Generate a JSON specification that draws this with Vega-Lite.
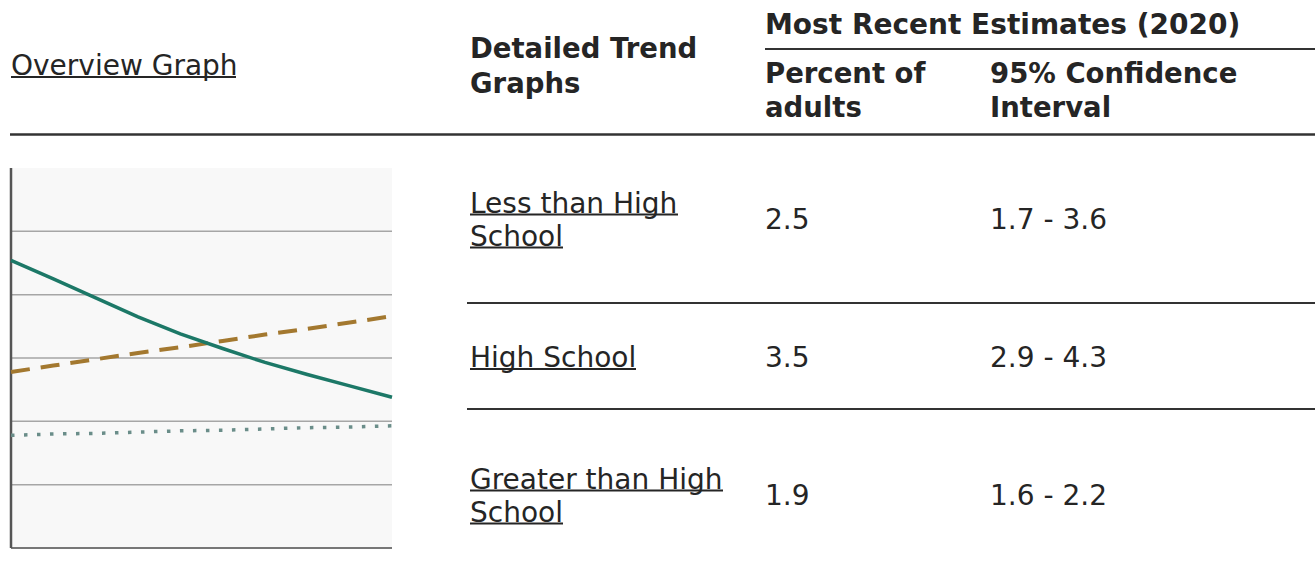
{
  "$schema": "https://vega.github.io/schema/vega-lite/v6.json",
  "width": 1315,
  "height": 579,
  "padding": 0,
  "autosize": {"type": "none"},
  "background": "white",
  "config": {
    "view": {"stroke": null},
    "axis": {"disable": true},
    "legend": {"disable": true},
    "font": "DejaVu Sans",
    "text": {"font": "DejaVu Sans", "fontSize": 28, "color": "#252525", "align": "left"}
  },
  "datasets": {
    "estimates": [
      {"group": "Less than High School", "label": "Less than High\nSchool", "percent": 2.5, "ci": "1.7 - 3.6"},
      {"group": "High School", "label": "High School", "percent": 3.5, "ci": "2.9 - 4.3"},
      {"group": "Greater than High School", "label": "Greater than High\nSchool", "percent": 1.9, "ci": "1.6 - 2.2"}
    ],
    "trend": [
      {"year": 2011, "series": "Less than High School", "value": 4.54},
      {"year": 2012, "series": "Less than High School", "value": 4.25},
      {"year": 2013, "series": "Less than High School", "value": 3.95},
      {"year": 2014, "series": "Less than High School", "value": 3.65},
      {"year": 2015, "series": "Less than High School", "value": 3.38},
      {"year": 2016, "series": "Less than High School", "value": 3.15},
      {"year": 2017, "series": "Less than High School", "value": 2.93},
      {"year": 2018, "series": "Less than High School", "value": 2.74},
      {"year": 2019, "series": "Less than High School", "value": 2.56},
      {"year": 2020, "series": "Less than High School", "value": 2.38},
      {"year": 2011, "series": "High School", "value": 2.78},
      {"year": 2012, "series": "High School", "value": 2.88},
      {"year": 2013, "series": "High School", "value": 2.98},
      {"year": 2014, "series": "High School", "value": 3.08},
      {"year": 2015, "series": "High School", "value": 3.17},
      {"year": 2016, "series": "High School", "value": 3.27},
      {"year": 2017, "series": "High School", "value": 3.37},
      {"year": 2018, "series": "High School", "value": 3.46},
      {"year": 2019, "series": "High School", "value": 3.56},
      {"year": 2020, "series": "High School", "value": 3.66},
      {"year": 2011, "series": "Greater than High School", "value": 1.78},
      {"year": 2012, "series": "Greater than High School", "value": 1.80},
      {"year": 2013, "series": "Greater than High School", "value": 1.81},
      {"year": 2014, "series": "Greater than High School", "value": 1.83},
      {"year": 2015, "series": "Greater than High School", "value": 1.85},
      {"year": 2016, "series": "Greater than High School", "value": 1.86},
      {"year": 2017, "series": "Greater than High School", "value": 1.88},
      {"year": 2018, "series": "Greater than High School", "value": 1.90},
      {"year": 2019, "series": "Greater than High School", "value": 1.91},
      {"year": 2020, "series": "Greater than High School", "value": 1.93}
    ],
    "gridlines": [{"level": 1}, {"level": 2}, {"level": 3}, {"level": 4}, {"level": 5}]
  },
  "layer": [
    {
      "data": {"values": [{}]},
      "layer": [
        {
          "mark": {"type": "text", "text": "Overview Graph", "baseline": "alphabetic"},
          "encoding": {
            "x": {"datum": 11, "type": "quantitative", "scale": {"domain": [0, 1315], "range": [0, 1315], "zero": false, "nice": false}},
            "y": {"datum": 74.5, "type": "quantitative", "scale": {"domain": [0, 579], "range": [0, 579], "zero": false, "nice": false}}
          }
        },
        {
          "mark": {"type": "rule", "color": "#252525", "strokeWidth": 2},
          "encoding": {"x": {"datum": 11, "type": "quantitative"}, "x2": {"datum": 236}, "y": {"datum": 77, "type": "quantitative"}}
        },
        {
          "mark": {"type": "text", "text": ["Detailed Trend", "Graphs"], "fontWeight": "bold", "fontSize": 27.5, "lineHeight": 35, "baseline": "alphabetic"},
          "encoding": {"x": {"datum": 470, "type": "quantitative"}, "y": {"datum": 58, "type": "quantitative"}}
        },
        {
          "mark": {"type": "text", "text": "Most Recent Estimates (2020)", "fontWeight": "bold", "fontSize": 28, "baseline": "alphabetic"},
          "encoding": {"x": {"datum": 765, "type": "quantitative"}, "y": {"datum": 34, "type": "quantitative"}}
        },
        {
          "mark": {"type": "rule", "color": "#333333", "strokeWidth": 2},
          "encoding": {"x": {"datum": 765, "type": "quantitative"}, "x2": {"datum": 1315}, "y": {"datum": 49, "type": "quantitative"}}
        },
        {
          "mark": {"type": "text", "text": ["Percent of", "adults"], "fontWeight": "bold", "fontSize": 27.5, "lineHeight": 34, "baseline": "alphabetic"},
          "encoding": {"x": {"datum": 765, "type": "quantitative"}, "y": {"datum": 83, "type": "quantitative"}}
        },
        {
          "mark": {"type": "text", "text": ["95% Confidence", "Interval"], "fontWeight": "bold", "fontSize": 27.5, "lineHeight": 34, "baseline": "alphabetic"},
          "encoding": {"x": {"datum": 990, "type": "quantitative"}, "y": {"datum": 83, "type": "quantitative"}}
        },
        {
          "mark": {"type": "rule", "color": "#333333", "strokeWidth": 2.5},
          "encoding": {"x": {"datum": 10, "type": "quantitative"}, "x2": {"datum": 1315}, "y": {"datum": 134.5, "type": "quantitative"}}
        },
        {
          "mark": {"type": "rule", "color": "#333333", "strokeWidth": 2},
          "encoding": {"x": {"datum": 467, "type": "quantitative"}, "x2": {"datum": 1315}, "y": {"datum": 303, "type": "quantitative"}}
        },
        {
          "mark": {"type": "rule", "color": "#333333", "strokeWidth": 2},
          "encoding": {"x": {"datum": 467, "type": "quantitative"}, "x2": {"datum": 1315}, "y": {"datum": 409, "type": "quantitative"}}
        }
      ]
    },
    {
      "data": {"name": "estimates"},
      "layer": [
        {
          "transform": [{"filter": "indexof(datum.label, '\\n') >= 0"}],
          "mark": {"type": "text", "lineBreak": "\n", "lineHeight": 33, "baseline": "middle", "dy": -16.5},
          "encoding": {
            "x": {"datum": 470, "type": "quantitative", "scale": {"domain": [0, 1315], "range": [0, 1315], "zero": false, "nice": false}},
            "y": {"field": "group", "type": "nominal", "scale": {"type": "point", "domain": ["Less than High School", "High School", "Greater than High School"], "range": [221, 497], "padding": 0}},
            "text": {"field": "label"}
          }
        },
        {
          "transform": [{"filter": "indexof(datum.label, '\\n') < 0"}],
          "mark": {"type": "text", "baseline": "middle"},
          "encoding": {
            "x": {"datum": 470, "type": "quantitative"},
            "y": {"field": "group", "type": "nominal"},
            "text": {"field": "label"}
          }
        },
        {
          "mark": {"type": "text", "baseline": "middle"},
          "encoding": {
            "x": {"datum": 765, "type": "quantitative"},
            "y": {"field": "group", "type": "nominal"},
            "text": {"field": "percent", "type": "quantitative", "format": ".1f"}
          }
        },
        {
          "mark": {"type": "text", "baseline": "middle"},
          "encoding": {
            "x": {"datum": 990, "type": "quantitative"},
            "y": {"field": "group", "type": "nominal"},
            "text": {"field": "ci"}
          }
        },
        {
          "data": {"values": [{}]},
          "mark": {"type": "rule", "color": "#252525", "strokeWidth": 2, "yOffset": -6.5},
          "encoding": {"x": {"datum": 470, "type": "quantitative"}, "x2": {"datum": 678}, "y": {"datum": "Less than High School", "type": "nominal"}}
        },
        {
          "data": {"values": [{}]},
          "mark": {"type": "rule", "color": "#252525", "strokeWidth": 2, "yOffset": 26.5},
          "encoding": {"x": {"datum": 470, "type": "quantitative"}, "x2": {"datum": 563}, "y": {"datum": "Less than High School", "type": "nominal"}}
        },
        {
          "data": {"values": [{}]},
          "mark": {"type": "rule", "color": "#252525", "strokeWidth": 2, "yOffset": 10},
          "encoding": {"x": {"datum": 470, "type": "quantitative"}, "x2": {"datum": 636}, "y": {"datum": "High School", "type": "nominal"}}
        },
        {
          "data": {"values": [{}]},
          "mark": {"type": "rule", "color": "#252525", "strokeWidth": 2, "yOffset": -6.5},
          "encoding": {"x": {"datum": 470, "type": "quantitative"}, "x2": {"datum": 723}, "y": {"datum": "Greater than High School", "type": "nominal"}}
        },
        {
          "data": {"values": [{}]},
          "mark": {"type": "rule", "color": "#252525", "strokeWidth": 2, "yOffset": 26.5},
          "encoding": {"x": {"datum": 470, "type": "quantitative"}, "x2": {"datum": 563}, "y": {"datum": "Greater than High School", "type": "nominal"}}
        }
      ]
    },
    {
      "data": {"name": "trend"},
      "layer": [
        {
          "data": {"values": [{}]},
          "mark": {"type": "rect", "color": "#f8f8f8"},
          "encoding": {
            "x": {"datum": 2011, "type": "quantitative", "scale": {"domain": [2011, 2020], "range": [11, 392], "zero": false, "nice": false}},
            "x2": {"datum": 2020},
            "y": {"datum": 0, "type": "quantitative", "scale": {"domain": [0, 6], "range": [548, 168], "zero": false, "nice": false}},
            "y2": {"datum": 6}
          }
        },
        {
          "data": {"name": "gridlines"},
          "mark": {"type": "rule", "color": "#a6a6a6", "strokeWidth": 1.5},
          "encoding": {"x": {"datum": 2011, "type": "quantitative"}, "x2": {"datum": 2020}, "y": {"field": "level", "type": "quantitative"}}
        },
        {
          "data": {"values": [{}]},
          "mark": {"type": "rule", "color": "#777777", "strokeWidth": 2},
          "encoding": {"x": {"datum": 2011, "type": "quantitative"}, "x2": {"datum": 2020}, "y": {"datum": 0, "type": "quantitative"}}
        },
        {
          "data": {"values": [{}]},
          "mark": {"type": "rule", "color": "#555555", "strokeWidth": 2.5},
          "encoding": {"x": {"datum": 2011, "type": "quantitative"}, "y": {"datum": 0, "type": "quantitative"}, "y2": {"datum": 6}}
        },
        {
          "transform": [{"filter": "datum.series === 'Greater than High School'"}],
          "mark": {"type": "line", "color": "#6a8d89", "strokeWidth": 3.5, "strokeDash": [3.5, 9.5]},
          "encoding": {"x": {"field": "year", "type": "quantitative"}, "y": {"field": "value", "type": "quantitative"}}
        },
        {
          "transform": [{"filter": "datum.series === 'High School'"}],
          "mark": {"type": "line", "color": "#a3782f", "strokeWidth": 4, "strokeDash": [19, 11]},
          "encoding": {"x": {"field": "year", "type": "quantitative"}, "y": {"field": "value", "type": "quantitative"}}
        },
        {
          "transform": [{"filter": "datum.series === 'Less than High School'"}],
          "mark": {"type": "line", "color": "#1c7867", "strokeWidth": 3.5},
          "encoding": {"x": {"field": "year", "type": "quantitative"}, "y": {"field": "value", "type": "quantitative"}}
        }
      ]
    }
  ],
  "resolve": {"scale": {"x": "independent", "y": "independent"}}
}
